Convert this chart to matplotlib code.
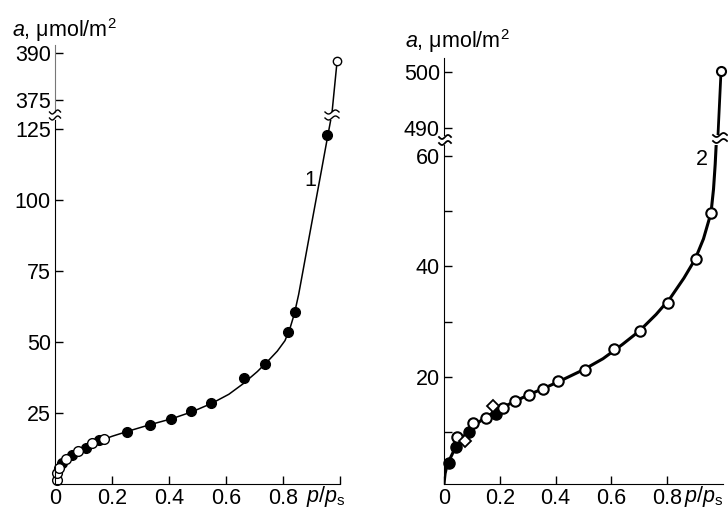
import matplotlib.pyplot as plt
import numpy as np
from matplotlib.lines import Line2D

plt.rcParams['font.family'] = ['Liberation Sans', 'DejaVu Sans']
plt.rcParams['mathtext.fontset'] = 'custom'
plt.rcParams['mathtext.rm'] = 'Liberation Sans'
plt.rcParams['mathtext.it'] = 'Liberation Sans:italic'

# ---- data: panel 1 ----
open1_p = [0.006, 0.008, 0.015, 0.04, 0.08, 0.13, 0.172]
open1_a = [1.4, 3.9, 5.6, 8.8, 11.6, 14.4, 15.8]
fill1_p = [0.025, 0.06, 0.11, 0.155, 0.253, 0.334, 0.408, 0.477, 0.548,
           0.663, 0.737, 0.818, 0.842, 0.955]
fill1_a = [7.4, 10.2, 12.7, 15.5, 18.3, 20.8, 22.9, 25.7, 28.5,
           37.3, 42.3, 53.5, 60.6, 122.9]
curve1_p = [0.0, 0.004, 0.01, 0.02, 0.035, 0.055, 0.08, 0.11, 0.15, 0.2, 0.26,
            0.33, 0.41, 0.48, 0.55, 0.61, 0.66, 0.71, 0.75, 0.78, 0.807, 0.825,
            0.84, 0.855, 0.87, 0.89, 0.912, 0.935, 0.955, 0.968]
curve1_a = [0.5, 2.8, 4.9, 6.9, 8.6, 10.2, 11.7, 13.1, 14.9, 16.8, 18.7,
            20.8, 23.0, 25.4, 28.4, 31.6, 35.3, 39.6, 43.6, 46.8, 50.5, 55.0,
            60.0, 66.8, 75, 86, 98, 110.5, 121.5, 128.5]
top1_p = [0.972, 0.99]
top1_a = [370.8, 387.5]

# ---- data: panel 2 ----
open2_p = [0.047, 0.104, 0.15, 0.211, 0.254, 0.305, 0.355, 0.408, 0.505,
           0.609, 0.703, 0.803, 0.903, 0.957]
open2_a = [9.1, 11.7, 12.6, 14.4, 15.65, 16.7, 17.8, 19.2, 21.3,
           25.1, 28.3, 33.4, 41.4, 49.7]
fill2_p = [0.018, 0.043, 0.09, 0.186]
fill2_a = [4.4, 7.3, 10.0, 13.3]
diam2_p = [0.075, 0.176]
diam2_a = [8.4, 14.7]
curve2_p = [0.0, 0.004, 0.01, 0.02, 0.035, 0.05, 0.07, 0.1, 0.14, 0.19, 0.25,
            0.31, 0.37, 0.43, 0.5, 0.57, 0.64, 0.7, 0.76, 0.81, 0.86, 0.9,
            0.93, 0.957, 0.966, 0.972, 0.976]
curve2_a = [0.7, 2.5, 3.8, 5.0, 6.6, 7.9, 9.2, 10.8, 12.4, 13.9, 15.5,
            16.9, 18.2, 19.6, 21.3, 23.3, 25.9, 28.3, 31.3, 34.2, 37.9, 41.3,
            45.0, 49.7, 54, 58.5, 62.5]
top2_p = [0.982, 0.993]
top2_a = [488.7, 500.2]

W, H = 728, 512
FS = 15.5


def px_axes(fig, x0, y0, x1, y1):
    # pixel box (left, top, right, bottom) -> axes
    return fig.add_axes([x0 / W, 1 - y1 / H, (x1 - x0) / W, (y1 - y0) / H])


def style(ax, bottom=True):
    for s in ['top', 'right']:
        ax.spines[s].set_visible(False)
    ax.tick_params(direction='in', length=6, width=1, labelsize=FS, pad=3)
    ax.tick_params(which='minor', direction='in', length=6, width=1)
    if not bottom:
        ax.spines['bottom'].set_visible(False)
        ax.tick_params(axis='x', bottom=False, labelbottom=False)


def wave(fig, xc, yc, w, lw=1.0):
    xs = np.linspace(-w / 2, w / 2, 30)
    ys = yc - 2.0 * np.sin(2 * np.pi * xs / w)
    fig.add_artist(Line2D((xc + xs) / W, 1 - ys / H, transform=fig.transFigure,
                          color='k', lw=lw))


fig = plt.figure(figsize=(7.28, 5.12), dpi=100)

# ---- panel 1 ----
ax1 = px_axes(fig, 55, 120, 340, 484)
ax1u = px_axes(fig, 55, 45, 340, 112)
ax1.plot(curve1_p, curve1_a, color='k', lw=1.1)
ax1.plot(fill1_p, fill1_a, 'o', color='k', ms=7, clip_on=False)
ax1.plot(open1_p, open1_a, 'o', mfc='white', mec='k', mew=1.0, ms=7, clip_on=False)
ax1.set_xlim(0, 1)
ax1.set_ylim(0, 128.2)
ax1.set_xticks([0, 0.2, 0.4, 0.6, 0.8, 1.0])
ax1.set_xticklabels(['0', '0.2', '0.4', '0.6', '0.8', ''])
ax1.set_yticks([25, 50, 75, 100, 125])
style(ax1)
ax1.text(0.88, -18 / 364, r'$p/p_\mathrm{s}$', transform=ax1.transAxes,
         fontsize=FS, ha='left', va='baseline')
ax1.text(0.895, 107, '1', fontsize=FS, ha='center', va='center')

ax1u.plot(top1_p, top1_a, color='k', lw=1.1)
ax1u.plot(top1_p[-1:], top1_a[-1:], 'o', mfc='white', mec='k', mew=1.0, ms=6,
          clip_on=False)
ax1u.set_xlim(0, 1)
ax1u.set_ylim(371, 392.5)
ax1u.set_yticks([375, 390])
style(ax1u, bottom=False)
ax1u.spines['left'].set_color('#777777')
fig.text(12 / W, 1 - 37 / H, r'$a$, μmol/m$^2$', fontsize=FS, ha='left',
         va='baseline')

# ---- panel 2 ----
ax2 = px_axes(fig, 444, 145, 723, 484)
ax2u = px_axes(fig, 444, 58, 723, 135)
ax2.plot(curve2_p, curve2_a, color='k', lw=2.2)
ax2.plot(fill2_p, fill2_a, 'o', color='k', ms=8, clip_on=False)
ax2.plot(open2_p, open2_a, 'o', mfc='white', mec='k', mew=1.5, ms=7.5, clip_on=False)
ax2.plot(diam2_p, diam2_a, 'D', mfc='white', mec='k', mew=1.3, ms=6.5, clip_on=False)
ax2.set_xlim(0, 1)
ax2.set_ylim(0.6, 62)
ax2.set_xticks([0, 0.2, 0.4, 0.6, 0.8])
ax2.set_xticklabels(['0', '0.2', '0.4', '0.6', '0.8'])
ax2.set_yticks([20, 40, 60])
ax2.set_yticks([10, 30, 50], minor=True)
style(ax2)
ax2.text(0.86, -18 / 339, r'$p/p_\mathrm{s}$', transform=ax2.transAxes,
         fontsize=FS, ha='left', va='baseline')
ax2.text(0.925, 59.3, '2', fontsize=FS, ha='center', va='center')

ax2u.plot(top2_p, top2_a, color='k', lw=2.0)
ax2u.plot(top2_p[-1:], top2_a[-1:], 'o', mfc='white', mec='k', mew=1.5, ms=6.5,
          clip_on=False)
ax2u.set_xlim(0, 1)
ax2u.set_ylim(488.75, 502.5)
ax2u.set_yticks([490, 500])
style(ax2u, bottom=False)
fig.text(405 / W, 1 - 48 / H, r'$a$, μmol/m$^2$', fontsize=FS, ha='left',
         va='baseline')

# break marks
wave(fig, 55, 112, 11)
wave(fig, 55, 118, 11)
wave(fig, 332, 112, 14)
wave(fig, 332, 118, 14)
wave(fig, 445, 137, 12, lw=1.3)
wave(fig, 445, 143, 12, lw=1.3)
wave(fig, 720, 135, 14, lw=1.3)
wave(fig, 720, 141, 14, lw=1.3)

fig.savefig('out.png', dpi=100)
